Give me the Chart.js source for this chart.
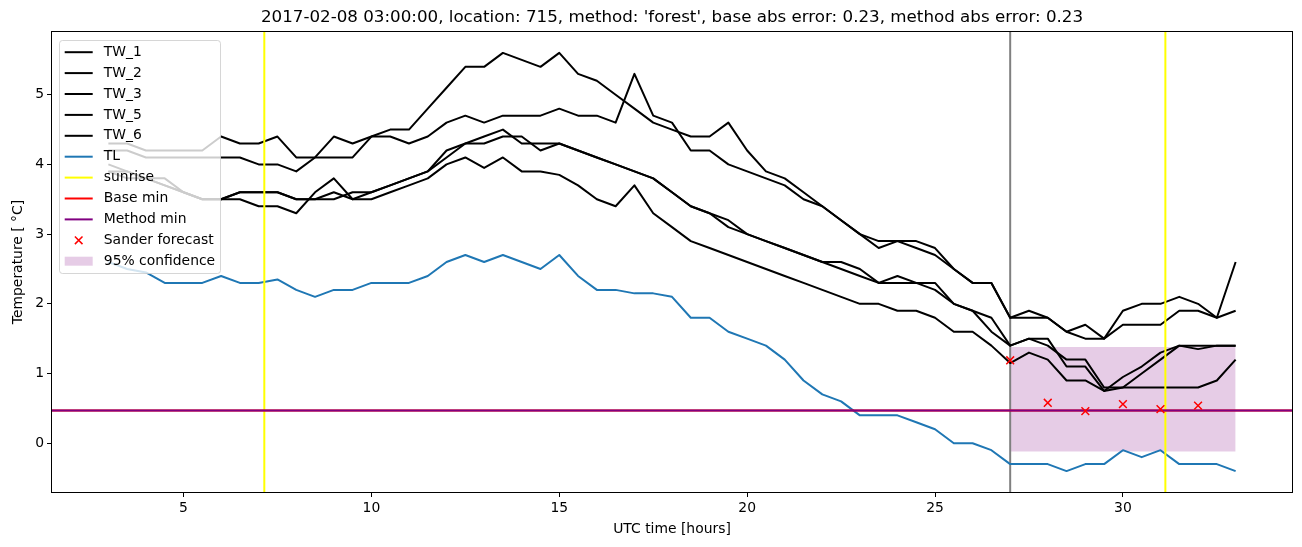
<!DOCTYPE html>
<html>
<head>
<meta charset="utf-8">
<script src="https://cdn.jsdelivr.net/npm/chart.js@4.4.1/dist/chart.umd.min.js"></script>
<style>
  html, body { margin: 0; padding: 0; background: #fff; }
  #wrap { width: 1302px; height: 547px; }
</style>
</head>
<body>
<div id="wrap"><canvas id="myChart" width="1302" height="547"></canvas></div>
<script>
// UTC time in hours, half hour steps
const hours = [3, 3.5, 4, 4.5, 5, 5.5, 6, 6.5, 7, 7.5,
  8, 8.5, 9, 9.5, 10, 10.5, 11, 11.5, 12, 12.5,
  13, 13.5, 14, 14.5, 15, 15.5, 16, 16.5, 17, 17.5,
  18, 18.5, 19, 19.5, 20, 20.5, 21, 21.5, 22, 22.5,
  23, 23.5, 24, 24.5, 25, 25.5, 26, 26.5, 27, 27.5,
  28, 28.5, 29, 29.5, 30, 30.5, 31, 31.5, 32, 32.5, 33];

const tw1 = [4.3, 4.3, 4.2, 4.2, 4.2, 4.2, 4.4, 4.3, 4.3, 4.4,
  4.1, 4.1, 4.4, 4.3, 4.4, 4.5, 4.5, 4.8, 5.1, 5.4,
  5.4, 5.6, 5.5, 5.4, 5.6, 5.3, 5.2, 5.0, 4.8, 4.6,
  4.5, 4.4, 4.4, 4.6, 4.2, 3.9, 3.8, 3.6, 3.4, 3.2,
  3.0, 2.9, 2.9, 2.9, 2.8, 2.5, 2.3, 2.3, 1.8, 1.9,
  1.8, 1.6, 1.7, 1.5, 1.9, 2.0, 2.0, 2.1, 2.0, 1.8, 2.6];
const tw2 = [4.2, 4.2, 4.1, 4.1, 4.1, 4.1, 4.1, 4.1, 4.0, 4.0,
  3.9, 4.1, 4.1, 4.1, 4.4, 4.4, 4.3, 4.4, 4.6, 4.7,
  4.6, 4.7, 4.7, 4.7, 4.8, 4.7, 4.7, 4.6, 5.3, 4.7,
  4.6, 4.2, 4.2, 4.0, 3.9, 3.8, 3.7, 3.5, 3.4, 3.2,
  3.0, 2.8, 2.9, 2.8, 2.7, 2.5, 2.3, 2.3, 1.8, 1.8,
  1.8, 1.6, 1.5, 1.5, 1.7, 1.7, 1.7, 1.9, 1.9, 1.8, 1.9];
const tw3 = [4.0, 3.9, 3.8, 3.8, 3.6, 3.5, 3.5, 3.6, 3.6, 3.6,
  3.5, 3.5, 3.5, 3.6, 3.6, 3.7, 3.8, 3.9, 4.1, 4.3,
  4.4, 4.5, 4.3, 4.3, 4.3, 4.2, 4.1, 4.0, 3.9, 3.8,
  3.6, 3.4, 3.3, 3.1, 3.0, 2.9, 2.8, 2.7, 2.6, 2.6,
  2.5, 2.3, 2.3, 2.3, 2.3, 2.0, 1.9, 1.6, 1.4, 1.5,
  1.5, 1.1, 1.1, 0.75, 0.95, 1.1, 1.3, 1.4, 1.35, 1.4, 1.4];
const tw5 = [3.9, 3.9, 3.8, 3.7, 3.6, 3.5, 3.5, 3.6, 3.6, 3.6,
  3.5, 3.5, 3.6, 3.5, 3.6, 3.7, 3.8, 3.9, 4.2, 4.3,
  4.3, 4.4, 4.4, 4.2, 4.3, 4.2, 4.1, 4.0, 3.9, 3.8,
  3.6, 3.4, 3.3, 3.2, 3.0, 2.9, 2.8, 2.7, 2.6, 2.5,
  2.4, 2.3, 2.4, 2.3, 2.2, 2.0, 1.9, 1.8, 1.4, 1.5,
  1.4, 1.2, 1.2, 0.8, 0.8, 1.0, 1.2, 1.4, 1.4, 1.4, 1.4];
const tw6 = [3.9, 3.8, 3.8, 3.7, 3.6, 3.5, 3.5, 3.5, 3.4, 3.4,
  3.3, 3.6, 3.8, 3.5, 3.5, 3.6, 3.7, 3.8, 4.0, 4.1,
  3.95, 4.1, 3.9, 3.9, 3.85, 3.7, 3.5, 3.4, 3.7, 3.3,
  3.1, 2.9, 2.8, 2.7, 2.6, 2.5, 2.4, 2.3, 2.2, 2.1,
  2.0, 2.0, 1.9, 1.9, 1.8, 1.6, 1.6, 1.4, 1.15, 1.3,
  1.2, 0.9, 0.9, 0.75, 0.8, 0.8, 0.8, 0.8, 0.8, 0.9, 1.2];
const tl = [2.6, 2.5, 2.45, 2.3, 2.3, 2.3, 2.4, 2.3, 2.3, 2.35,
  2.2, 2.1, 2.2, 2.2, 2.3, 2.3, 2.3, 2.4, 2.6, 2.7,
  2.6, 2.7, 2.6, 2.5, 2.7, 2.4, 2.2, 2.2, 2.15, 2.15,
  2.1, 1.8, 1.8, 1.6, 1.5, 1.4, 1.2, 0.9, 0.7, 0.6,
  0.4, 0.4, 0.4, 0.3, 0.2, 0.0, 0.0, -0.1, -0.3, -0.3,
  -0.3, -0.4, -0.3, -0.3, -0.1, -0.2, -0.1, -0.3, -0.3, -0.3, -0.4];

const sunrise = [7.15, 31.13];
const forecastHour = 27;
const baseMin = 0.47;
const methodMin = 0.47;
const sanderHours = [27, 28, 29, 30, 31, 32];
const sanderTemps = [1.19, 0.58, 0.46, 0.56, 0.49, 0.54];
const confHours = [27, 33];
const confLow = [-0.12, -0.12];
const confHigh = [1.38, 1.38];

const xTicks = [5, 10, 15, 20, 25, 30];
const yTicks = [0, 1, 2, 3, 4, 5];
const xMin = 1.5, xMax = 34.5, yMin = -0.7, yMax = 5.9;

const titleText = "2017-02-08 03:00:00, location: 715, method: 'forest', base abs error: 0.23, method abs error: 0.23";

const FONT = 'DejaVu Sans';
Chart.defaults.font.family = FONT;
Chart.defaults.color = '#000';

const pts = (xs, ys) => xs.map((x, i) => ({ x: x, y: ys[i] }));

function series(label, ys, color, order) {
  return { label: label, data: pts(hours, ys), borderColor: color, backgroundColor: color,
    borderWidth: 2, pointRadius: 0, order: order, inLegend: true, kind: 'line' };
}
function vline(label, x, color, order, inLegend) {
  return { label: label, data: pts([x, x], [yMin, yMax]), borderColor: color, backgroundColor: color,
    borderWidth: 2, pointRadius: 0, order: order, inLegend: inLegend, kind: 'line' };
}
function hline(label, y, color, order) {
  return { label: label, data: pts([xMin, xMax], [y, y]), borderColor: color, backgroundColor: color,
    borderWidth: 2, pointRadius: 0, order: order, inLegend: true, kind: 'line' };
}

const datasets = [
  { label: 'conf_low', data: pts(confHours, confLow), borderWidth: 0, pointRadius: 0,
    fill: false, order: 30, inLegend: false },
  { label: '95% confidence', data: pts(confHours, confHigh), borderWidth: 0, pointRadius: 0,
    fill: '-1', backgroundColor: 'rgba(128,0,128,0.2)', borderColor: 'rgba(0,0,0,0)',
    order: 29, inLegend: true, kind: 'patch' },
  vline('now', forecastHour, '#808080', 20, false),
  series('TW_1', tw1, '#000000', 15),
  series('TW_2', tw2, '#000000', 14),
  series('TW_3', tw3, '#000000', 13),
  series('TW_5', tw5, '#000000', 12),
  series('TW_6', tw6, '#000000', 11),
  series('TL', tl, '#1f77b4', 10),
  vline('sunrise', sunrise[0], '#ffff00', 9, true),
  vline('sunrise_2', sunrise[1], '#ffff00', 9, false),
  hline('Base min', baseMin, '#ff0000', 8),
  hline('Method min', methodMin, '#800080', 7),
  { label: 'Sander forecast', data: pts(sanderHours, sanderTemps), showLine: false,
    pointStyle: 'crossRot', pointRadius: 5.5, pointBorderWidth: 1.5, borderColor: '#ff0000',
    backgroundColor: '#ff0000', order: 1, inLegend: true, kind: 'marker' }
];

// title centred over the axes, like matplotlib
const axTitle = {
  id: 'axTitle',
  afterDraw(chart) {
    const ctx = chart.ctx, a = chart.chartArea;
    ctx.save();
    ctx.font = '16.7px "' + FONT + '"';
    ctx.fillStyle = '#000';
    ctx.textAlign = 'center';
    ctx.textBaseline = 'middle';
    ctx.fillText(titleText, (a.left + a.right) / 2, a.top - 14.5);
    ctx.restore();
  }
};

// the 4 axis spines
const spines = {
  id: 'spines',
  afterDatasetsDraw(chart) {
    const a = chart.chartArea, ctx = chart.ctx;
    ctx.save();
    ctx.strokeStyle = '#000';
    ctx.lineWidth = 1;
    ctx.strokeRect(Math.round(a.left) - 0.5, Math.round(a.top) - 0.5,
      Math.round(a.right - a.left) + 1, Math.round(a.bottom - a.top) + 1);
    ctx.restore();
  }
};

// legend box in upper left corner of the axes
const boxLegend = {
  id: 'boxLegend',
  afterDraw(chart) {
    const ctx = chart.ctx, a = chart.chartArea;
    const items = chart.data.datasets.filter(d => d.inLegend);
    const order = ['TW_1', 'TW_2', 'TW_3', 'TW_5', 'TW_6', 'TL', 'sunrise', 'Base min',
      'Method min', 'Sander forecast', '95% confidence'];
    items.sort((p, q) => order.indexOf(p.label) - order.indexOf(q.label));
    const x0 = a.left + 7.5, y0 = a.top + 8.5;
    const w = 161, rowH = 20.9;
    const h = 12 + rowH * (items.length - 1) + 12;
    ctx.save();
    ctx.beginPath();
    ctx.roundRect(x0, y0, w, h, 3);
    ctx.fillStyle = 'rgba(255,255,255,0.8)';
    ctx.fill();
    ctx.strokeStyle = 'rgba(204,204,204,0.8)';
    ctx.lineWidth = 1;
    ctx.stroke();
    ctx.font = '13.9px "' + FONT + '"';
    ctx.textBaseline = 'middle';
    ctx.fillStyle = '#000';
    items.forEach((d, i) => {
      const cy = y0 + 11.7 + i * rowH;
      const hx = x0 + 5.2, hw = 28;
      if (d.kind === 'line') {
        ctx.strokeStyle = d.borderColor;
        ctx.lineWidth = 2;
        ctx.beginPath();
        ctx.moveTo(hx, cy);
        ctx.lineTo(hx + hw, cy);
        ctx.stroke();
      } else if (d.kind === 'marker') {
        const cx = hx + hw / 2, r = 3.8;
        ctx.strokeStyle = d.borderColor;
        ctx.lineWidth = 1.5;
        ctx.beginPath();
        ctx.moveTo(cx - r, cy - r); ctx.lineTo(cx + r, cy + r);
        ctx.moveTo(cx - r, cy + r); ctx.lineTo(cx + r, cy - r);
        ctx.stroke();
      } else if (d.kind === 'patch') {
        ctx.fillStyle = d.backgroundColor;
        ctx.fillRect(hx, cy - 4.5, hw, 9);
      }
      ctx.fillStyle = '#000';
      ctx.fillText(d.label, x0 + 44.3, cy);
    });
    ctx.restore();
  }
};

const tickFont = { family: FONT, size: 13.9 };

new Chart(document.getElementById('myChart').getContext('2d'), {
  type: 'line',
  data: { datasets: datasets },
  options: {
    responsive: false,
    animation: false,
    devicePixelRatio: 1,
    layout: { padding: { left: 0, right: 10, top: 32, bottom: 0 } },
    elements: { line: { tension: 0, borderJoinStyle: 'round' } },
    plugins: {
      legend: { display: false },
      tooltip: { enabled: false },
      title: { display: false }
    },
    scales: {
      x: {
        type: 'linear', min: xMin, max: xMax,
        afterBuildTicks: s => { s.ticks = xTicks.map(v => ({ value: v })); },
        afterFit: s => { s.height = 55; },
        grid: { drawOnChartArea: false, drawTicks: true, tickLength: 5, color: '#000' },
        border: { display: false },
        ticks: { color: '#000', font: tickFont, padding: 3, maxRotation: 0 },
        title: { display: true, text: 'UTC time [hours]', color: '#000', font: tickFont,
          padding: { top: 0, bottom: 9 } }
      },
      y: {
        type: 'linear', min: yMin, max: yMax,
        afterBuildTicks: s => { s.ticks = yTicks.map(v => ({ value: v })); },
        afterFit: s => { s.width = 52; },
        grid: { drawOnChartArea: false, drawTicks: true, tickLength: 5, color: '#000' },
        border: { display: false },
        ticks: { color: '#000', font: tickFont, padding: 3 },
        title: { display: true, text: 'Temperature [ °C]', color: '#000', font: tickFont,
          padding: { top: 10, bottom: 0 } }
      }
    }
  },
  plugins: [spines, axTitle, boxLegend]
});
</script>
</body>
</html>
